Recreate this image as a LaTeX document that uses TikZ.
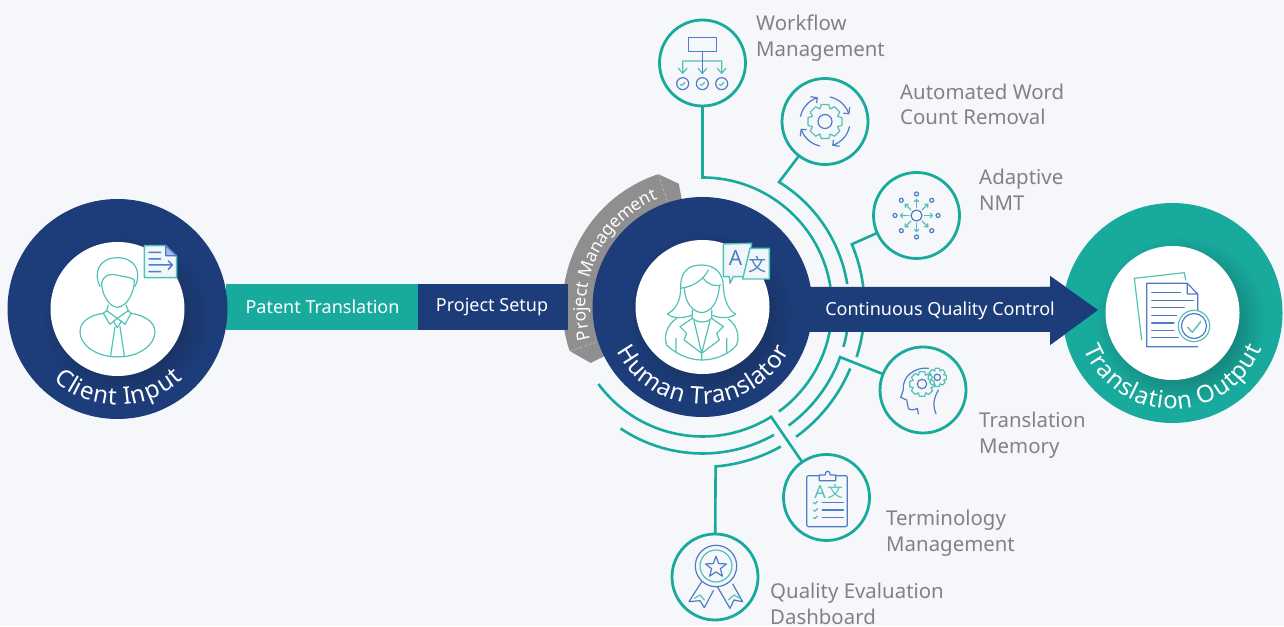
\documentclass[tikz,border=0pt]{standalone}
\usepackage{fontspec}
\setmainfont{Noto Sans}
\newfontfamily\cjkfont{Noto Sans CJK SC}
\usetikzlibrary{decorations.text}
\definecolor{bgcol}{RGB}{245,247,250}
\definecolor{navy}{RGB}{28,61,122}
\definecolor{navyd}{RGB}{26,52,103}
\definecolor{tealm}{RGB}{24,170,157}
\definecolor{teald}{RGB}{21,138,128}
\definecolor{greyband}{RGB}{143,143,143}
\definecolor{greytxt}{RGB}{128,130,133}
\definecolor{icot}{RGB}{82,194,183}
\definecolor{icob}{RGB}{78,124,198}
\definecolor{paper}{RGB}{240,246,250}
\pgfdeclareradialshading{navyglow}{\pgfpoint{0bp}{0bp}}{color(0bp)=(navyd);color(17bp)=(navyd);color(25bp)=(navy);color(50bp)=(navy)}
\pgfdeclareradialshading{tealglow}{\pgfpoint{0bp}{0bp}}{color(0bp)=(teald);color(17bp)=(teald);color(25bp)=(tealm);color(50bp)=(tealm)}
\tikzset{
  disc/.style={circle,minimum size=220pt,inner sep=0pt,outer sep=0pt,fill=#1},
  hole/.style={circle,minimum size=134pt,inner sep=0pt,outer sep=0pt,fill=white},
  hub/.style={circle,minimum size=86pt,inner sep=0pt,outer sep=0pt,draw=tealm,line width=2.8pt},
  conn/.style={draw=tealm,line width=2.6pt,line join=miter},
  barlabel/.style={text=white,font=\fontsize{18}{20}\selectfont,inner sep=0pt,outer sep=0pt},
  sidelabel/.style={text=greytxt,font=\fontsize{20.4}{25.7}\selectfont,align=left,anchor=west,inner sep=0pt},
  zoomat/.style 2 args={shift={(#1,626-#2)},x=0.33333pt,y=-0.33333pt},
  icot/.style={draw=icot,line width=1.2pt,line join=round,line cap=round},
  icob/.style={draw=icob,line width=1.2pt,line join=round,line cap=round},
}
\newcommand\ringarc[3]{\draw[conn] ([shift=(#1:#3)]hc) arc[start angle=#1,end angle=#2,radius=#3];}
\newcommand\curvedtext[6]{%
  \path[decorate,decoration={text effects along path,text={#5},
    text effects/.cd,fit text to path,
    characters={text along path,text=white,font=\fontsize{#6}{#6}\selectfont}}]
    ([shift=(#2:#4)]#1) arc[start angle=#2,end angle=#3,radius=#4];}
\newcommand\gearpath[4]{% style, root r, tip r, teeth
  \pgfmathsetmacro\gs{360/#4}
  \draw[#1] ({-0.5*\gs}:#2) foreach \gi in {1,...,#4} {
    -- ({(\gi-1)*\gs-0.28*\gs}:#3) -- ({(\gi-1)*\gs+0.28*\gs}:#3)
    -- ({(\gi-1)*\gs+0.5*\gs}:#2)} -- cycle;}
\begin{document}
\begin{tikzpicture}[x=1pt,y=1pt]
\useasboundingbox (0,0) rectangle (1284,626);
\fill[bgcol] (0,0) rectangle (1284,626);
\coordinate (hc) at (702.5,319);

% rings (upper)
\node[hub] (wf) at (702.5,563) {};
\node[hub] (awc) at (825,504.5) {};
\node[hub] (nmt) at (916.5,410.5) {};
\node[hub] (tm) at (923,236) {};
\node[hub] (term) at (826.5,128.5) {};
\node[hub] (qed) at (715,49) {};

\coordinate (jwf) at ([shift=(90:129.5)]hc);
\coordinate (jawc) at ([shift=(58.5:146.5)]hc);
\coordinate (jnmt) at ([shift=(22.8:162)]hc);
\coordinate (jtm) at ([shift=(-20:146.5)]hc);
\coordinate (jterm) at ([shift=(-58:129.5)]hc);
\coordinate (jqed) at ([shift=(-85.3:160)]hc);

\draw[conn] (wf) -- (jwf) arc[start angle=90,end angle=9,radius=129.5];
\draw[conn] (awc) -- (jawc) arc[start angle=58.5,end angle=9,radius=146.5];
\draw[conn] (nmt) -- (jnmt) arc[start angle=22.8,end angle=6,radius=162];
\draw[conn] (tm) -- (jtm) arc[start angle=-20,end angle=-54,radius=146.5];
\draw[conn] (term) -- (jterm) arc[start angle=-58,end angle=-143.5,radius=129.5];
\draw[conn] (qed) -- (jqed) arc[start angle=-85.3,end angle=-60.7,radius=160];
\ringarc{-9}{-53.8}{129.5}
\ringarc{-9}{-15.8}{146.5}
\ringarc{-8}{-18}{162}
\ringarc{-22.6}{-54.2}{160}
\ringarc{-60.8}{-124}{146.5}

% gray band
\fill[greyband] ([shift=(198.3:140)]hc) arc[start angle=198.3,end angle=108.4,radius=140]
  -- ([shift=(100.9:125.5)]hc) -- ([shift=(100.9:100)]hc)
  arc[start angle=100.9,end angle=206.6,radius=100]
  -- ([shift=(206.6:125)]hc) -- cycle;
\draw[white,opacity=.45,densely dashed,line width=.5pt] ([shift=(108.4:140)]hc) -- ([shift=(108.4:110)]hc);
\draw[white,opacity=.45,densely dashed,line width=.5pt] ([shift=(198.3:140)]hc) -- ([shift=(198.3:110)]hc);
\curvedtext{hc}{196}{112.5}{116.5}{Project Management}{17.5}

% bars
\node[fill=navy,minimum width=150pt,minimum height=46pt,inner sep=0pt,outer sep=0pt] (setupbar) at (493,319) {};
\node[fill=tealm,minimum width=192pt,minimum height=46pt,inner sep=0pt,outer sep=0pt] (patbar) at (322,319) {};
\node[barlabel] (patent) at (322.5,319) {Patent Translation};
\node[barlabel] (setup) at (492,319) {Project Setup};
\fill[navy] (800,339) -- (1050,339) -- (1050,350) -- (1098,316) -- (1050,281) -- (1050,294) -- (800,294) -- cycle;

% client
\node[disc=navy] (client) at (117.5,317) {};
\path[shading=navyglow] (125.5,309) circle[radius=85pt];
\node[hole] (clienti) at (117.5,317) {};
\curvedtext{client}{228}{313}{96}{Client Input}{24}
\begin{scope}[zoomat={0}{190}]
  \draw[icot] (300,290) .. controls (280,250) and (295,205) .. (350,203) .. controls (410,203) and (425,250) .. (405,290);
  \draw[icot] (305,280) .. controls (310,255) and (330,250) .. (350,255) .. controls (370,262) and (395,260) .. (403,270);
  \draw[icot] (305,280) .. controls (305,310) and (325,350) .. (352,352) .. controls (380,350) and (403,310) .. (403,270);
  \draw[icot] (325,345) -- (320,362) -- (310,370) -- (330,403) -- (352,385) -- (375,403) -- (393,370) -- (385,362) -- (378,345);
  \draw[icot] (320,362) -- (352,385) -- (385,362);
  \draw[icot] (310,370) .. controls (270,375) and (240,395) .. (240,425) .. controls (240,465) and (285,495) .. (335,500) -- (372,500) .. controls (420,495) and (465,465) .. (465,425) .. controls (465,395) and (430,375) .. (393,370);
  \draw[icot] (340,393) -- (352,413) -- (365,393);
  \draw[icot] (345,410) -- (332,497);
  \draw[icot] (360,410) -- (373,497);
  \draw[icot,fill=paper,line width=1.6pt] (433,167) -- (497,167) -- (530,200) -- (530,263) -- (433,263) -- cycle;
  \draw[icob,fill=icob!50] (497,167) -- (497,197) -- (530,197) -- cycle;
  \draw[icob,line width=1.5pt] (447,187) -- (482,187) (447,207) -- (482,207) (447,225) -- (515,225) (447,245) -- (482,245) (505,213) -- (517,225) -- (505,238);
\end{scope}

% human
\node[disc=navy] (human) at (702.5,319) {};
\path[shading=navyglow] (710.5,311) circle[radius=85pt];
\node[hole] (humani) at (702.5,319) {};
\curvedtext{human}{207.5}{333}{97}{Human Translator}{24}
\begin{scope}[zoomat={560}{170}]
  \draw[icot] (362,355) .. controls (360,300) and (390,285) .. (425,285) .. controls (465,285) and (490,310) .. (490,350) .. controls (492,395) and (510,425) .. (527,432) .. controls (510,447) and (480,445) .. (458,436);
  \draw[icot] (362,355) .. controls (362,395) and (345,420) .. (322,432) .. controls (340,447) and (370,445) .. (395,436);
  \draw[icot] (362,355) .. controls (400,350) and (430,330) .. (445,300);
  \draw[icot] (430,325) .. controls (445,345) and (465,350) .. (482,345);
  \draw[icot] (373,355) .. controls (375,395) and (395,425) .. (425,428) .. controls (455,425) and (475,395) .. (478,348);
  \draw[icot] (397,420) -- (397,445) .. controls (415,460) and (440,460) .. (455,445) -- (455,420);
  \draw[icot] (350,445) .. controls (320,465) and (310,500) .. (320,525) .. controls (345,550) and (385,570) .. (425,570) .. controls (470,570) and (510,550) .. (530,525) .. controls (540,495) and (530,465) .. (505,447);
  \draw[icot] (397,445) -- (360,470) -- (380,490) -- (372,510) -- (425,550) -- (478,510) -- (470,490) -- (490,470) -- (455,445);
  \draw[icot] (402,452) -- (425,550) -- (450,452) (425,550) -- (425,570) (348,505) -- (348,548) (500,505) -- (500,548);
  \draw[icot,fill=paper,line width=1.4pt] (490,222) -- (575,220) -- (555,320) -- (520,320) -- (510,340) -- (508,320) -- (490,320) -- cycle;
  \draw[icot,fill=paper,line width=1.4pt] (570,235) -- (628,235) -- (628,327) -- (548,327) -- cycle;
  \node[text=icob,inner sep=0pt,font=\fontsize{21}{21}\selectfont] (iconA) at (527,264) {A};
  \node[text=icob,inner sep=0pt,font=\cjkfont\fontsize{18}{18}\selectfont] (iconW) at (592,284) {文};
\end{scope}

% output
\node[disc=tealm] (output) at (1172.5,313) {};
\path[shading=tealglow] (1180.5,305) circle[radius=85pt];
\node[hole] (outputi) at (1172.5,313) {};
\fill[navy] (1040,339) -- (1050,339) -- (1050,350) -- (1098,316) -- (1050,281) -- (1050,294) -- (1040,294) -- cycle;
\curvedtext{output}{202}{338}{96}{Translation Output}{24}
\begin{scope}[zoomat={1050}{190}]
  \draw[icot] (275,450) -- (253,265) -- (403,248) -- (407,270);
  \draw[icob] (443,365) -- (443,312) -- (412,280) -- (290,280) -- (290,470) -- (443,470) (412,280) -- (412,312) -- (443,312);
  \draw[icob] (305,308) -- (392,308) (305,332) -- (430,332) (305,353) -- (403,353) (305,376) -- (380,376) (305,399) -- (372,399) (305,421) -- (372,421) (305,443) -- (385,443);
  \draw[icot,fill=white] (432,408) circle[radius=15.7pt];
  \draw[icob] (432,408) circle[radius=12.5pt];
  \draw[icot,line width=1.4pt] (413,412) -- (427,427) -- (452,395);
\end{scope}

% arrow label
\node[barlabel] (cqc) at (940,315.5) {Continuous Quality Control};

% workflow icon
\begin{scope}[zoomat={650}{10}]
  \draw[icob] (115,83) rectangle (199,125);
  \draw[icot] (98,188) -- (98,153) -- (215,153) -- (215,188) (85,175) -- (98,190) -- (111,175) (144,175) -- (157,190) -- (170,175) (202,175) -- (215,190) -- (228,175);
  \draw[icob] (157,125) -- (157,190);
  \foreach \cx in {98,157,215} {
    \draw[icob] (\cx,221) circle[radius=6pt];
    \draw[icot] (\cx-7,224) -- (\cx-2,226) -- (\cx+7,217);
  }
\end{scope}

% automated word count icon
\begin{scope}[shift={(825,504.5)}]
  \gearpath{icot}{13.5}{17.5}{8}
  \draw[icob] (0,0) circle[radius=7pt];
  \foreach \a in {0,90,180,270} {
    \draw[icob] ({\a+20}:25) arc[start angle=\a+20,end angle=\a+78,radius=25];
    \draw[icob] ({\a+24}:20.5) -- ({\a+18}:25) -- ({\a+30}:28.5);
  }
\end{scope}

% adaptive NMT icon
\begin{scope}[shift={(916.5,410.5)}]
  \draw[icob] (0,0) circle[radius=5.5pt];
  \foreach \a in {0,45,...,315} {
    \draw[icot] (\a:8) -- (\a:16);
    \draw[icot] ({\a-9}:14) -- (\a:16) -- ({\a+9}:14);
    \draw[icob] (\a:21.5) circle[radius=2pt];
  }
\end{scope}

% translation memory icon
\begin{scope}[zoomat={860}{340}]
  \draw[icob] (175,222) -- (172,205) .. controls (160,212) and (148,210) .. (145,205) -- (140,180) -- (122,172) -- (130,150) .. controls (125,110) and (165,80) .. (205,85);
  \draw[icob] (235,150) .. controls (215,185) and (222,205) .. (228,222);
  \begin{scope}[shift={(186,132)},x=1pt,y=1pt]
    \gearpath{icot}{9.5}{12.5}{8}
    \draw[icob] (0,0) circle[radius=4.7pt];
  \end{scope}
  \begin{scope}[shift={(232,112)},x=1pt,y=1pt]
    \gearpath{icot}{6.8}{9.3}{8}
    \draw[icob] (0,0) circle[radius=3.2pt];
  \end{scope}
\end{scope}

% terminology icon
\begin{scope}[zoomat={660}{460}]
  \draw[icob,rounded corners=2pt] (440,47) rectangle (562,200);
  \draw[icob,fill=bgcol] (478,62) -- (478,45) -- (495,45) .. controls (495,30) and (511,30) .. (511,45) -- (527,45) -- (527,62) -- cycle;
  \node[text=icot,inner sep=0pt,font=\fontsize{18}{18}\selectfont] (termA) at (480,95) {A};
  \node[text=icot,inner sep=0pt,font=\cjkfont\fontsize{15.5}{15.5}\selectfont] (termW) at (525,94) {文};
  \foreach \ly in {128,150,172} {
    \draw[icot] (460,\ly) -- (465,\ly+4) -- (472,\ly-4);
    \draw[icob] (487,\ly) -- (550,\ly);
  }
\end{scope}

% quality evaluation icon
\begin{scope}[zoomat={660}{460}]
  \draw[icob] (168,318) circle[radius=20.7pt];
  \draw[icot] (168,318) circle[radius=16pt];
  \begin{scope}[shift={(168,322)},x=1pt,y=1pt]
    \draw[icob] (90:11) -- (126:4.6) -- (162:11) -- (198:4.6) -- (234:11) -- (270:4.6) -- (306:11) -- (342:4.6) -- (18:11) -- (54:4.6) -- cycle;
  \end{scope}
  \draw[icob] (125,365) -- (87,425) -- (120,422) -- (133,443) -- (160,392);
  \draw[icob] (172,380) -- (210,445) -- (222,420) -- (248,425) -- (218,372);
  \draw[icot] (103,415) -- (120,405) -- (133,420) (205,420) -- (222,405) -- (240,415);
\end{scope}

% side labels
\node[sidelabel] (lwf) at (756,588) {Workflow\\Management};
\node[sidelabel] (lawc) at (900,521.5) {Automated Word\\Count Removal};
\node[sidelabel] (lnmt) at (979,436) {Adaptive\\NMT};
\node[sidelabel] (ltm) at (979,191) {Translation\\Memory};
\node[sidelabel] (lterm) at (886,92.5) {Terminology\\Management};
\node[sidelabel] (lqed) at (770,22) {Quality Evaluation\\Dashboard};
\end{tikzpicture}
\end{document}
